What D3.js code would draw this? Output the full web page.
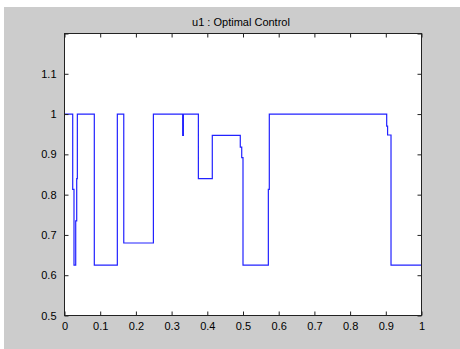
<!DOCTYPE html>
<html><head><meta charset="utf-8">
<script src="https://cdn.jsdelivr.net/npm/d3@7"></script>
<style>body{margin:0;background:#fff}svg{display:block}text{font-family:"Liberation Sans",Arial,sans-serif;font-size:11px;fill:#000}</style>
</head><body><svg id="c" width="460" height="349"></svg>
<script>
const title = "u1 : Optimal Control";
const times = [0, 0.023, 0.0266, 0.0314, 0.0342, 0.036, 0.0835, 0.148, 0.166, 0.249, 0.331, 0.333, 0.375, 0.414, 0.4924, 0.4964, 0.500, 0.571, 0.5737, 0.9025, 0.905, 0.9146, 1.0];
const values = [1, 0.813, 0.625, 0.735, 0.84, 1, 0.625, 1, 0.68, 1, 0.947, 1, 0.84, 0.947, 0.918, 0.892, 0.625, 0.813, 1, 0.97, 0.948, 0.625, 0.625];
const xTicks = [0, 0.1, 0.2, 0.3, 0.4, 0.5, 0.6, 0.7, 0.8, 0.9, 1];
const xTickLabels = ["0", "0.1", "0.2", "0.3", "0.4", "0.5", "0.6", "0.7", "0.8", "0.9", "1"];
const yTicks = [0.5, 0.6, 0.7, 0.8, 0.9, 1, 1.1, 1.2];
const yTickLabels = ["0.5", "0.6", "0.7", "0.8", "0.9", "1", "1.1", ""];

const svg = d3.select("#c");
svg.append("rect").attr("x",4).attr("y",7).attr("width",456).attr("height",342).attr("fill","#cccccc");
const L=64.5, R=421.5, T=33.5, B=315.5;
svg.append("rect").attr("x",L).attr("y",T).attr("width",R-L).attr("height",B-T).attr("fill","#fff");
const x = d3.scaleLinear().domain([0,1]).range([L,R]);
const y = d3.scaleLinear().domain([0.5,1.2]).range([B,T]);

const data = times.map((t,i)=>({t, v: values[i]}));
const line = d3.line().x(d=>x(d.t)).y(d=>y(d.v)).curve(d3.curveStepAfter);
svg.append("path").datum(data).attr("d", line).attr("fill","none").attr("stroke","#2222ff").attr("stroke-width",1.2);

const tl = 4;
const fmtX = (d,i)=>xTickLabels[i], fmtY=(d,i)=>yTickLabels[i];
svg.append("g").attr("transform",`translate(0,${B})`).call(d3.axisBottom(x).tickValues(xTicks).tickFormat(fmtX).tickSizeInner(-tl).tickSizeOuter(0).tickPadding(7))
  .call(g=>{g.select(".domain").remove(); g.selectAll("text").style("font-size","11px");});
svg.append("g").attr("transform",`translate(0,${T})`).call(d3.axisTop(x).tickValues(xTicks).tickFormat("").tickSizeInner(-tl).tickSizeOuter(0))
  .call(g=>g.select(".domain").remove());
svg.append("g").attr("transform",`translate(${L},0)`).call(d3.axisLeft(y).tickValues(yTicks).tickFormat(fmtY).tickSizeInner(-tl).tickSizeOuter(0).tickPadding(8))
  .call(g=>{g.select(".domain").remove(); g.selectAll("text").style("font-size","11px");});
svg.append("g").attr("transform",`translate(${R},0)`).call(d3.axisRight(y).tickValues(yTicks).tickFormat("").tickSizeInner(-tl).tickSizeOuter(0))
  .call(g=>g.select(".domain").remove());
svg.append("rect").attr("x",L).attr("y",T).attr("width",R-L).attr("height",B-T).attr("fill","none").attr("stroke","#222").attr("stroke-width",1);
svg.selectAll(".tick line").attr("stroke","#222");
svg.append("text").attr("x",(L+R)/2-2).attr("y",26).attr("text-anchor","middle").text(title);
</script></body></html>
